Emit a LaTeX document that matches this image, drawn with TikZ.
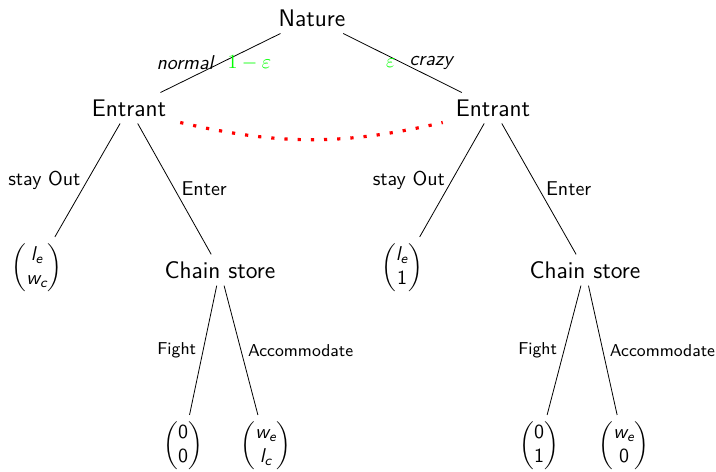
\documentclass[tikz,border=0pt]{standalone}
\usepackage{amsmath}
\newcommand{\si}[1]{\text{\sffamily\itshape #1}}
\newcommand{\sd}[1]{\text{\sffamily #1}}
\tikzset{
  dec/.style={font=\sffamily\large},
  leaf/.style={font=\sffamily},
  lbl/.style={font=\sffamily},
  ilbl/.style={font=\sffamily\itshape},
  slbl/.style={font=\sffamily\fontsize{8.6}{10}\selectfont},
  prob/.style={text=green},
  infoset/.style={red, line width=1.6pt, dash pattern=on 1.6pt off 5pt},
}
\begin{document}
\begin{tikzpicture}[x=0.5pt,y=0.5pt]
\useasboundingbox (0,0) rectangle (716,-471);
% decision nodes
\node[dec] (nat) at (312,-18) {Nature};
\node[dec] (e1) at (129,-108) {Entrant};
\node[dec] (e2) at (493,-108) {Entrant};
\node[dec] (cs1) at (220,-270) {Chain store};
\node[dec] (cs2) at (585,-270) {Chain store};
% leaves
\node[leaf] (o1) at (37,-268) {$\begin{pmatrix}\si{l}_{\si{e}}\\ \si{w}_{\si{c}}\end{pmatrix}$};
\node[leaf] (o2) at (402,-268) {$\begin{pmatrix}\si{l}_{\si{e}}\\ \sd{1}\end{pmatrix}$};
\node[leaf] (f1) at (183,-446) {$\begin{pmatrix}\sd{0}\\ \sd{0}\end{pmatrix}$};
\node[leaf] (a1) at (266,-446) {$\begin{pmatrix}\si{w}_{\si{e}}\\ \si{l}_{\si{c}}\end{pmatrix}$};
\node[leaf] (f2) at (539,-446) {$\begin{pmatrix}\sd{0}\\ \sd{1}\end{pmatrix}$};
\node[leaf] (a2) at (624,-446) {$\begin{pmatrix}\si{w}_{\si{e}}\\ \sd{0}\end{pmatrix}$};
% edges
\draw (nat) -- node[ilbl,left]{normal} node[prob,right]{$1-\varepsilon$} (e1);
\draw (nat) -- node[prob,left]{$\varepsilon$} node[ilbl,right]{crazy} (e2);
\draw (e1) -- node[lbl,left]{stay Out} (o1);
\draw (e1) -- node[lbl,right]{Enter} (cs1);
\draw (e2) -- node[lbl,left]{stay Out} (o2);
\draw (e2) -- node[lbl,right]{Enter} (cs2);
\draw (cs1) -- node[slbl,left]{Fight} (f1);
\draw (cs1) -- node[slbl,right]{Accommodate} (a1);
\draw (cs2) -- node[slbl,left]{Fight} (f2);
\draw (cs2) -- node[slbl,right]{Accommodate} (a2);
% information set
\draw[infoset] ([xshift=3.5pt,yshift=0.5pt]e1.south east) to[bend right=13] ([xshift=-3pt,yshift=0.5pt]e2.south west);
\end{tikzpicture}
\end{document}
